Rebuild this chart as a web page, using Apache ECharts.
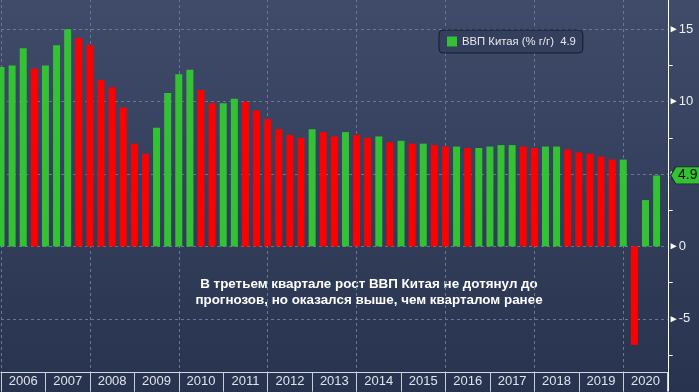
<!DOCTYPE html>
<html><head><meta charset="utf-8">
<script src="https://cdn.jsdelivr.net/npm/echarts@6/dist/echarts.min.js"></script>
<style>html,body{margin:0;padding:0;background:#2d3957}#c{width:699px;height:392px}</style>
</head><body><div id="c"></div>
<script>
// ---- data ----
const firstQuarter = '2005Q4';
const years = [2006, 2007, 2008, 2009, 2010, 2011, 2012, 2013, 2014, 2015, 2016, 2017, 2018, 2019, 2020];
const quarterNames = ['Q1', 'Q2', 'Q3', 'Q4'];
const gdpYoY = [
  12.4,                    // 2005Q4
  12.5, 13.7, 12.3, 12.5,  // 2006
  13.9, 15.0, 14.4, 13.9,  // 2007
  11.5, 11.0, 9.6, 7.1,    // 2008
  6.4, 8.2, 10.6, 11.9,    // 2009
  12.2, 10.8, 9.9, 9.9,    // 2010
  10.2, 10.0, 9.4, 8.8,    // 2011
  8.1, 7.7, 7.5, 8.1,      // 2012
  7.9, 7.6, 7.9, 7.7,      // 2013
  7.5, 7.6, 7.2, 7.3,      // 2014
  7.1, 7.1, 7.0, 6.9,      // 2015
  6.9, 6.8, 6.8, 6.9,      // 2016
  7.0, 7.0, 6.9, 6.8,      // 2017
  6.9, 6.9, 6.7, 6.5,      // 2018
  6.4, 6.2, 6.0, 6.0,      // 2019
  -6.8, 3.2, 4.9           // 2020
];
const seriesName = 'ВВП Китая (% г/г)';
const yTicks = {min: -10, max: 20, interval: 5};
const noteLines = ['В третьем квартале рост ВВП Китая не дотянул до', 'прогнозов, но оказался выше, чем кварталом ранее'];

// ---- build ----
const categories = [firstQuarter];
years.forEach(y => quarterNames.forEach(q => categories.push(y + q)));
const lastValue = gdpYoY[gdpYoY.length - 1];
const GREEN = '#33c233', RED = '#ff0000';

const chart = echarts.init(document.getElementById('c'));
chart.setOption({
  animation: false,
  backgroundColor: {type: 'linear', x: 0, y: 0, x2: 0, y2: 1,
    colorStops: [{offset: 0, color: '#3f4b69'}, {offset: 1, color: '#28334f'}]},
  grid: {left: 1, right: 31.3, top: -43, height: 434.1, containLabel: false, outerBoundsMode: 'none'},
  legend: {
    left: 439, top: 30, padding: [6, 7, 6, 8], itemWidth: 10, itemHeight: 10, icon: 'rect',
    backgroundColor: '#333f5c', borderColor: '#161c2a', borderWidth: 1, borderRadius: 4,
    data: [{name: seriesName, itemStyle: {color: GREEN}}],
    formatter: n => n + '  ' + lastValue,
    textStyle: {color: '#e8e8e8', fontSize: 11.3, fontFamily: 'Liberation Sans, Arial'}
  },
  xAxis: {
    type: 'category', data: categories, boundaryGap: false, position: 'bottom', offset: -18.4,
    axisLine: {show: true, onZero: false, lineStyle: {color: '#d4d8e0', width: 1}},
    axisTick: {show: true, interval: (i) => i % 4 === 0, length: 19, lineStyle: {color: '#c9ced8'}},
    axisLabel: {show: true, interval: (i) => i % 4 === 2, formatter: v => String(v).slice(0, 4),
      color: '#dfe3ea', fontSize: 13, margin: 2, fontFamily: 'Liberation Sans, Arial'},
    splitLine: {show: true, interval: (i) => i % 8 === 0, lineStyle: {color: '#6a7794', type: [3, 3]}}
  },
  yAxis: {
    type: 'value', position: 'right', offset: 1, min: yTicks.min, max: yTicks.max, interval: yTicks.interval,
    axisLine: {show: true, lineStyle: {color: '#ffffff', width: 1}},
    axisTick: {show: false},
    minorTick: {show: true, splitNumber: 2, length: 4, lineStyle: {color: '#ffffff', width: 1}},
    splitLine: {show: true, showMinLine: false, lineStyle: {color: '#6a7794', type: [3, 3]}},
    axisLabel: {
      show: true, margin: 0, showMinLabel: false, showMaxLabel: false,
      formatter: v => '{t|►}{v|' + v + '}',
      rich: {
        t: {fontSize: 10, width: 10, color: '#ffffff', align: 'left', fontFamily: 'Liberation Sans, Arial'},
        v: {fontSize: 13, color: '#eef0f4', fontFamily: 'Liberation Sans, Arial'}
      }
    }
  },
  series: [{
    type: 'bar', name: seriesName, data: gdpYoY, barWidth: 7, clip: false,
    itemStyle: {color: p => (p.dataIndex === 0 || gdpYoY[p.dataIndex] >= gdpYoY[p.dataIndex - 1]) ? GREEN : RED},
    emphasis: {disabled: true},
    markPoint: {
      silent: true,
      symbol: 'path://M0,8 L5,0 L30,0 L30,16 L5,16 Z',
      symbolSize: [30, 17], symbolOffset: [18, 0],
      itemStyle: {color: GREEN, borderColor: '#15301a', borderWidth: 1},
      label: {show: true, position: 'inside', color: '#0b0b0b', fontSize: 14, offset: [2, 0],
        fontFamily: 'Liberation Sans, Arial', formatter: '{c}'},
      data: [{coord: [categories[categories.length - 1], lastValue], value: lastValue}]
    }
  }],
  graphic: [{
    type: 'text', x: 369, y: 276, silent: true,
    style: {text: noteLines.join('\n'), fill: '#ffffff', font: 'bold 13.4px "Liberation Sans", Arial',
      align: 'center', verticalAlign: 'top', lineHeight: 16}
  }]
});
</script></body></html>
